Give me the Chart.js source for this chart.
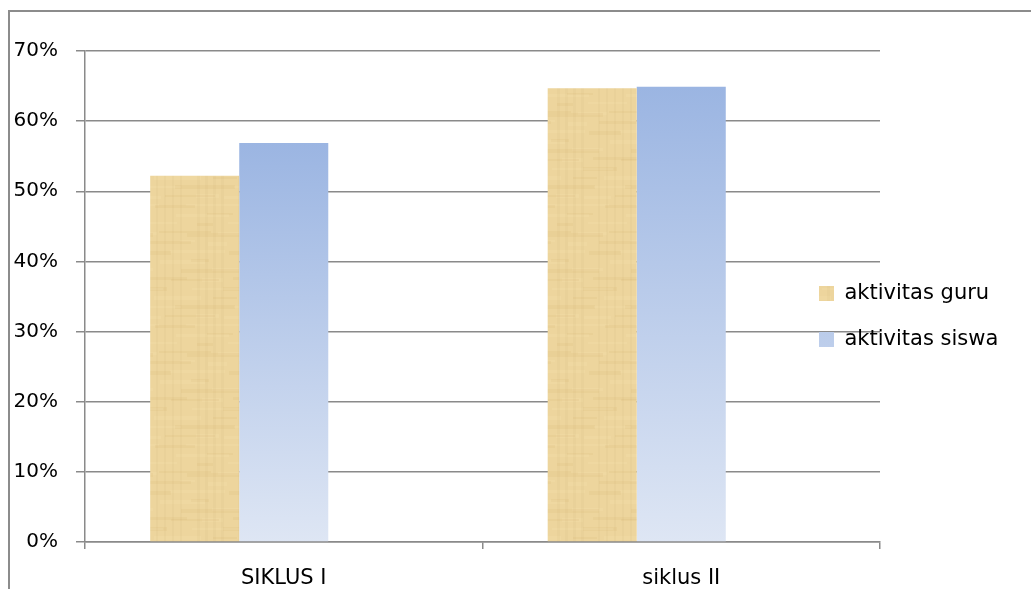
<!DOCTYPE html>
<html><head><meta charset="utf-8">
<script src="https://cdn.jsdelivr.net/npm/chart.js@4.4.1/dist/chart.umd.min.js"></script>
<style>
html,body{margin:0;padding:0;background:#fff;overflow:hidden}
#wrap{position:relative;width:1031px;height:589px;overflow:hidden}
#frame{position:absolute;left:8px;top:10px;width:1060px;height:620px;border:2px solid #8c8c8c;box-sizing:border-box}
canvas{position:absolute;left:0;top:0}
</style></head><body>
<div id="wrap"><div id="frame"></div><canvas id="c" width="1031" height="589"></canvas></div>
<script>
const categories = ['SIKLUS I', 'siklus II'];
const seriesNames = ['aktivitas guru', 'aktivitas siswa'];
const guruValues = [52.2, 64.7];
const siswaValues = [56.9, 64.9];
const emptySeriesValues = [null, null];
const yMin = 0, yMax = 70, yStep = 10;

function makePaper() {
  const c = document.createElement('canvas');
  c.width = 90; c.height = 120;
  const g = c.getContext('2d');
  g.fillStyle = '#EDD59D';
  g.fillRect(0, 0, 90, 120);
  for (let i = 0; i < 30; i++) {
    const y = (i * 37) % 120, x = (i * 53) % 90, w = 15 + (i * 29) % 50;
    g.fillStyle = i % 2 ? 'rgba(185,145,75,0.07)' : 'rgba(255,240,200,0.12)';
    g.fillRect(x, y, w, 2 + (i % 3));
    g.fillRect(x - 90, y, w, 2 + (i % 3));
  }
  for (let i = 0; i < 9; i++) {
    const x = (i * 41) % 90;
    g.fillStyle = 'rgba(185,145,75,0.05)';
    g.fillRect(x, 0, 2 + (i % 2), 120);
  }
  return g.createPattern(c, 'repeat');
}
const paper = makePaper();

function siswaFill(ctx) {
  const chart = ctx.chart;
  if (ctx.type !== 'data' || !chart.chartArea || !chart.scales.y) return '#BCCDEC';
  const y = chart.scales.y;
  const top = y.getPixelForValue(ctx.raw);
  const base = y.getPixelForValue(0);
  const gr = chart.ctx.createLinearGradient(0, top, 0, base);
  gr.addColorStop(0, '#9BB5E2');
  gr.addColorStop(1, '#DEE6F4');
  return gr;
}

const legendPlacer = {
  id: 'legendPlacer',
  afterLayout(chart) {
    const lg = chart.legend;
    if (!lg) return;
    const w = lg.width, h = lg.height;
    lg.left = 794; lg.right = lg.left + w;
    lg.top = 258; lg.bottom = lg.top + h;
  }
};

Chart.defaults.font.family = "'DejaVu Sans', sans-serif";
Chart.defaults.font.size = 21;
Chart.defaults.color = '#000';

new Chart(document.getElementById('c'), {
  type: 'bar',
  data: {
    labels: categories,
    datasets: [
      { label: seriesNames[0], data: guruValues, backgroundColor: paper, borderWidth: 0 },
      { label: seriesNames[1], data: siswaValues, backgroundColor: siswaFill, borderWidth: 0 },
      { label: '', data: emptySeriesValues, backgroundColor: 'rgba(0,0,0,0)', borderWidth: 0 }
    ]
  },
  options: {
    responsive: false,
    animation: false,
    events: [],
    layout: { padding: { top: 51, right: 151, left: 0, bottom: 0 } },
    datasets: { bar: { categoryPercentage: 0.672, barPercentage: 1.0 } },
    plugins: {
      tooltip: { enabled: false },
      legend: {
        position: 'chartArea',
        align: 'start',
        labels: {
          boxWidth: 15, boxHeight: 15, padding: 25,
          font: { size: 21 },
          filter: (item) => item.text !== ''
        }
      }
    },
    scales: {
      x: {
        afterFit: (s) => { s.height = 47; },
        grid: { offset: true, drawOnChartArea: false, drawTicks: true, tickLength: 7, color: '#8a8a8a', lineWidth: 1.5 },
        border: { color: '#8a8a8a', width: 1.5 },
        ticks: { padding: 17, font: { size: 21 } }
      },
      y: {
        min: yMin, max: yMax,
        afterFit: (s) => { s.width = 85; },
        grid: { color: '#8a8a8a', lineWidth: 1.5, tickLength: 9 },
        border: { color: '#8a8a8a', width: 1.5 },
        ticks: { stepSize: yStep, padding: 18, callback: (v) => v + '%', font: { size: 20 } }
      }
    }
  },
  plugins: [legendPlacer]
});
</script>
</body></html>
